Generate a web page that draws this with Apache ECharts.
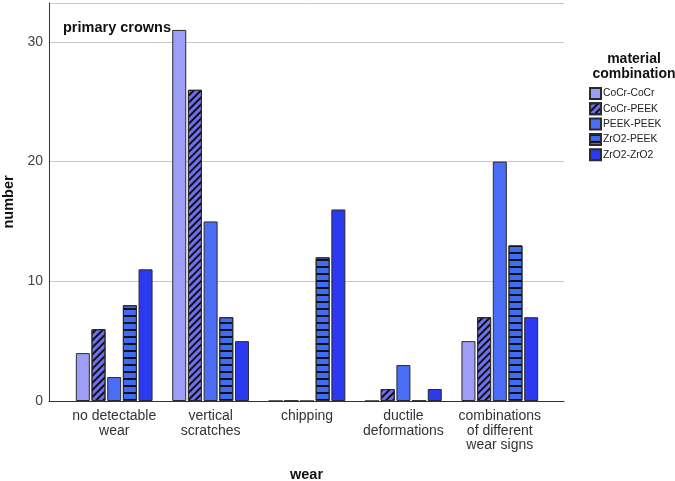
<!DOCTYPE html>
<html><head><meta charset="utf-8">
<script src="https://cdn.jsdelivr.net/npm/echarts@6/dist/echarts.min.js"></script>
<style>html,body{margin:0;padding:0;background:#fff}#c{width:675px;height:481px}</style>
</head><body><div id="c"></div>
<script>
var categories = ['no detectable\nwear', 'vertical\nscratches', 'chipping', 'ductile\ndeformations', 'combinations\nof different\nwear signs'];
var seriesNames = ['CoCr-CoCr', 'CoCr-PEEK', 'PEEK-PEEK', 'ZrO2-PEEK', 'ZrO2-ZrO2'];
var cocrCocr = [4, 31, 0, 0, 5];
var cocrPeek = [6, 26, 0, 1, 7];
var peekPeek = [2, 15, 0, 3, 20];
var zro2Peek = [8, 7, 12, 0, 13];
var zro2Zro2 = [11, 5, 16, 1, 7];
var yTicks = [0, 10, 20, 30];

var values = [cocrCocr, cocrPeek, peekPeek, zro2Peek, zro2Zro2];
var colors = ['#9e9ef6', '#6f6ff2', '#4b6cf4', '#3f6cf2', '#2b3af0'];
var decals = [
  null,
  {symbol: 'rect', color: '#111', dashArrayX: [1, 0], dashArrayY: [2, 2.6], rotation: -Math.PI / 4, symbolSize: 1},
  null,
  {symbol: 'rect', color: '#111', dashArrayX: [1, 0], dashArrayY: [1.2, 4.3], rotation: 0, symbolSize: 1},
  null
];
var YMAX = 33.25;
var chart = echarts.init(document.getElementById('c'), null, {renderer: 'canvas'});
var series = seriesNames.map(function (n, i) {
  var st = {color: colors[i], borderColor: '#2a2a2a', borderWidth: 1, borderRadius: 0};
  if (decals[i]) st.decal = decals[i];
  return {
    name: n, type: 'bar', xAxisIndex: 0, yAxisIndex: 0,
    barWidth: 14, barGap: '12%',
    itemStyle: st, data: values[i], animation: false
  };
});
chart.setOption({
  animation: false,
  textStyle: {fontFamily: 'Liberation Sans, Arial, sans-serif'},
  grid: [
    {left: 66, right: 127, top: 3, bottom: 80, containLabel: false, outerBoundsMode: 'none'},
    {left: 49, right: 111, top: 3, bottom: 80, containLabel: false, outerBoundsMode: 'none'}
  ],
  legend: {
    orient: 'vertical', left: 589, top: 87, padding: 0, itemWidth: 11, itemHeight: 11, itemGap: 2.3, icon: 'rect',
    data: seriesNames, textStyle: {fontSize: 10.3, color: '#222', padding: [0, 0, 0, -3]}, selectedMode: false
  },
  title: [
    {text: 'material\ncombination', left: 629, top: 47, textAlign: 'center',
     textStyle: {fontSize: 14, fontWeight: 'bold', color: '#111', lineHeight: 15}},
    {text: 'primary crowns', left: 58, top: 15,
     textStyle: {fontSize: 14.5, fontWeight: 'bold', color: '#111'}}
  ],
  xAxis: [
    {type: 'category', gridIndex: 0, data: categories,
     axisLine: {show: false}, axisTick: {show: false},
     axisLabel: {fontSize: 14, color: '#333', lineHeight: 14.5, margin: 8, interval: 0}},
    {type: 'value', gridIndex: 1, min: 0, max: 1,
     axisLine: {show: true, onZero: false, lineStyle: {color: '#333', width: 1}},
     axisTick: {show: false}, axisLabel: {show: false}, splitLine: {show: false},
     name: 'wear', nameLocation: 'middle', nameGap: 66,
     nameTextStyle: {fontSize: 14.5, fontWeight: 'bold', color: '#111'}}
  ],
  yAxis: [
    {type: 'value', gridIndex: 0, min: 0, max: YMAX, show: false, splitLine: {show: false}},
    {type: 'value', gridIndex: 1, min: 0, max: YMAX, interval: 10,
     axisLine: {show: true, lineStyle: {color: '#333', width: 1}},
     axisTick: {show: false},
     axisLabel: {fontSize: 14, color: '#444', margin: 6,
       formatter: function (v) { return yTicks.indexOf(v) >= 0 ? String(v) : ''; }},
     splitLine: {show: true, lineStyle: {color: '#c8c8c8', width: 1}},
     name: 'number', nameLocation: 'middle', nameGap: 30, nameRotate: 90,
     nameTextStyle: {fontSize: 14.5, fontWeight: 'bold', color: '#111'}}
  ],
  series: series
});
</script></body></html>
